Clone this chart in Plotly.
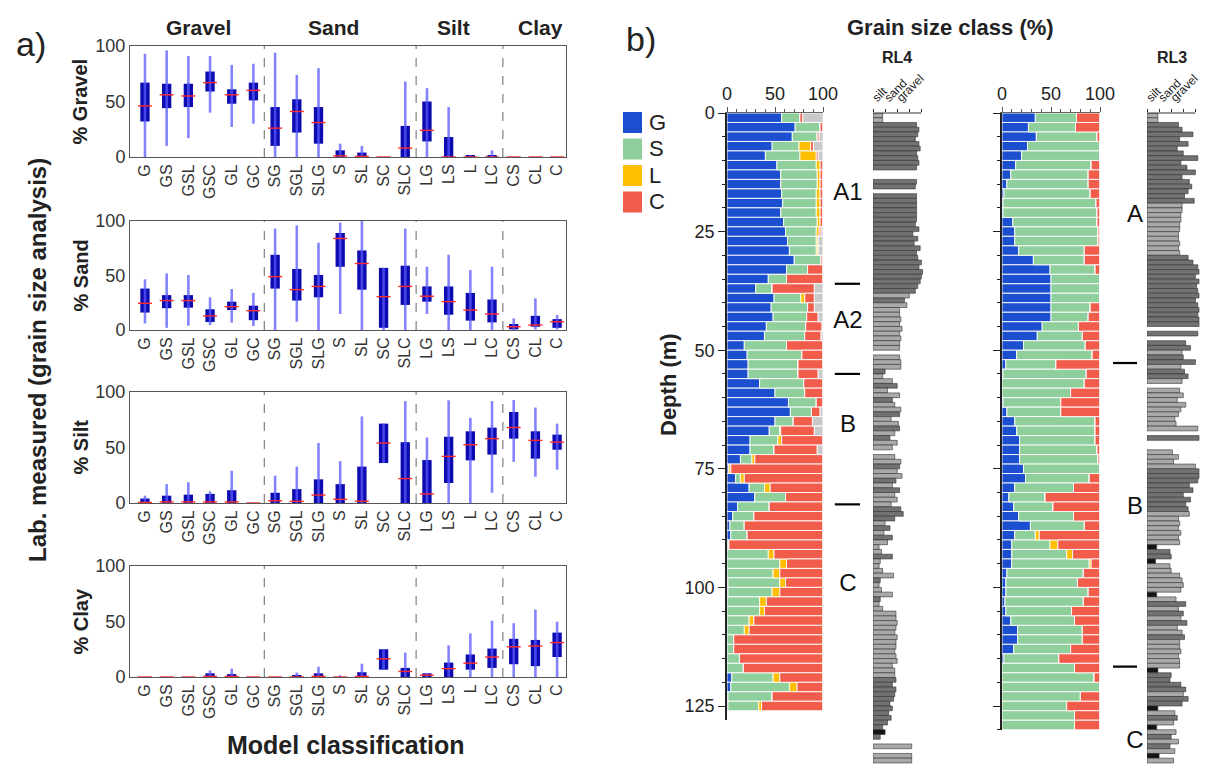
import plotly.graph_objects as go
import numpy as np

# ---------------- DATA: panel a (box statistics) ----------------
categories = ["G", "GS", "GSL", "GSC", "GL", "GC", "SG", "SGL", "SLG", "S", "SL", "SC", "SLC",
              "LG", "LS", "L", "LC", "CS", "CL", "C"]

gravel_lo  = [0, 10, 17, 40, 27, 30, 0, 0, 0, 0, 0, 0, 0, 0, 0, 0, 0, 0, 0, 0]
gravel_q1  = [32, 44, 45, 59, 48, 51, 10, 22, 12, 0, 0, 0, 0, 14, 0, 0, 0, 0, 0, 0]
gravel_med = [46, 56, 55, 67, 56, 60, 26, 41, 31, 1, 0.5, 0, 8, 24, 0, 0, 0, 0, 0, 0]
gravel_q3  = [67, 66, 66, 77, 61, 67, 45, 52, 45, 6, 4, 0, 28, 50, 18, 1.5, 1.5, 0, 0, 0]
gravel_hi  = [93, 96, 91, 91, 83, 84, 94, 74, 80, 12, 10, 0, 68, 62, 45, 1.5, 6, 0, 0, 0]

sand_lo  = [6, 2, 4, 4.6, 6.7, 3.7, 0, 7.6, 0, 14.7, 0, 0, 0, 14.7, 0, 0, 0, 0, 0.6, 0.6]
sand_q1  = [16, 20, 20.5, 7.3, 18.3, 9, 38, 27, 30, 58, 37, 2, 23, 26, 14, 8.6, 7, 0.6, 3, 2]
sand_med = [24.5, 27, 27, 13, 21.4, 17.7, 49, 37, 40, 84, 61, 30.6, 40, 31, 26, 18.3, 14.7, 3, 4.6, 7.6]
sand_q3  = [38, 32, 32, 19, 26, 22.3, 69, 56, 50.5, 89, 73, 57, 59, 40, 40, 34, 28, 5.5, 13, 10]
sand_hi  = [46.5, 52, 50.5, 30, 37.6, 34, 93, 96, 80, 98.5, 100, 57, 93, 58, 69, 55, 58, 10.7, 29, 13.8]

silt_lo  = [0, 0, 0, 0, 0, 0, 0, 0, 0, 0, 0, 36, 0, 0, 0, 0, 9.2, 37, 23.6, 30]
silt_q1  = [0, 0, 0, 0, 0, 0, 0, 0, 0, 0, 0, 36, 0, 0, 18, 38.4, 43.6, 58, 40, 48]
silt_med = [0.5, 1, 1, 1, 1, 0, 2, 1.5, 7.2, 3.3, 1.6, 54, 22, 8.2, 42, 52.5, 58, 68, 56.4, 54.8]
silt_q3  = [4, 6.6, 7.5, 8.2, 11.5, 0, 9.2, 12.5, 21.3, 17, 32.8, 71.5, 54.8, 38.7, 59.7, 64.6, 67.9, 82, 64.6, 61.6]
silt_hi  = [6.6, 17, 18.7, 10.5, 29, 0, 24.6, 32.8, 54, 37.7, 78, 71.5, 91.8, 59, 92.5, 76.7, 91.8, 92.8, 86, 71.5]

clay_lo  = [0, 0, 0, 0, 0, 0, 0, 0, 0, 0, 0, 6.6, 0, 0, 0, 0, 0, 0, 0, 0]
clay_q1  = [0, 0, 0, 0, 0, 0, 0, 0, 0, 0, 0, 6.6, 0, 0, 0, 6.6, 8.2, 11.5, 9.8, 18]
clay_med = [0, 0, 0, 0.5, 0.5, 0, 0, 0, 0.5, 0, 0.5, 16.4, 5, 1.6, 7.5, 12.5, 18, 27.2, 27.9, 31]
clay_q3  = [0, 0, 0, 3.3, 2.6, 0, 0, 1.6, 3.3, 0, 4.3, 25, 8.2, 3.3, 13, 20.3, 25.6, 34.4, 33.4, 40]
clay_hi  = [0, 0, 0, 5.9, 7.5, 0, 0, 4, 9.2, 1.6, 12, 25, 22, 3.3, 28.5, 39.3, 50.8, 48.5, 60.7, 49.8]

group_breaks = [5.5, 12.5, 16.5]
group_names = ["Gravel", "Sand", "Silt", "Clay"]
panel_titles = ["% Gravel", "% Sand", "% Silt", "% Clay"]

# ---------------- DATA: panel b (2 m sample rows, %) ----------------
row_thickness_m = 2
rl4_G = [57, 71, 68, 47, 40, 52, 56, 56, 57, 58, 56, 59, 61, 63, 65, 70, 62, 43, 30, 49, 46, 48, 41, 39,
         18, 21, 22, 22, 34, 50, 64, 66, 50, 44, 24, 24, 14, 2, 9, 23, 29, 11, 6, 3, 4, 1, 0, 0, 0, 1,
         1, 0, 0, 0, 0, 0, 0, 0, 0, 5, 4, 1, 1]
rl4_S = [19, 26, 26, 28, 36, 41, 38, 38, 36, 35, 37, 35, 32, 30, 28, 28, 22, 19, 17, 28, 38, 35, 41, 42,
         44, 57, 52, 52, 46, 31, 29, 22, 19, 11, 29, 25, 12, 0, 5, 16, 32, 33, 22, 15, 17, 1, 43, 55, 48, 54,
         46, 34, 34, 23, 18, 7, 7, 13, 17, 43, 61, 46, 32]
rl4_L = [0, 0, 0, 12, 17, 4, 3, 3, 4, 4, 4, 3, 3, 2, 2, 0, 0, 0, 0, 4, 0, 0, 0, 0,
         0, 0, 0, 0, 0, 0, 0, 0, 0, 1, 4, 0, 3, 2, 4, 6, 0, 0, 0, 0, 0, 0, 6, 7, 7, 6,
         8, 7, 5, 5, 5, 0, 0, 0, 0, 7, 8, 0, 3]
rl4_C = [3, 3, 2, 3, 2, 3, 3, 3, 3, 3, 3, 3, 2, 0, 0, 2, 16, 38, 44, 10, 7, 12, 17, 17,
         38, 22, 26, 21, 20, 19, 7, 9, 20, 35, 43, 45, 71, 96, 82, 55, 39, 56, 72, 82, 79, 98, 51, 38, 45, 39,
         45, 59, 61, 72, 77, 93, 93, 87, 83, 45, 27, 53, 64]

rl3_G = [34, 27, 35, 26, 20, 14, 9, 5, 2, 1, 1, 11, 13, 13, 17, 32, 49, 50, 50, 50, 50, 50, 41, 36,
         22, 15, 4, 1, 0, 0, 1, 5, 13, 15, 18, 18, 18, 22, 24, 13, 7, 12, 17, 29, 13, 10, 10, 10,
         5, 4, 4, 3, 4, 9, 16, 16, 12, 2, 0, 0, 0, 0, 0, 0, 0]
rl3_S = [42, 48, 62, 74, 80, 77, 79, 83, 88, 95, 96, 86, 85, 85, 67, 52, 46, 50, 50, 50, 40, 38, 37, 46,
         63, 77, 51, 85, 84, 70, 59, 55, 82, 80, 77, 79, 80, 78, 65, 60, 37, 40, 56, 55, 21, 39, 56, 79,
         78, 73, 84, 80, 67, 65, 66, 66, 58, 56, 74, 94, 100, 80, 66, 74, 74]
rl3_L = [0, 0, 0, 0, 0, 0, 0, 0, 0, 0, 0, 0, 0, 0, 0, 0, 0, 0, 0, 0, 0, 0, 0, 0,
         0, 0, 0, 0, 0, 0, 0, 0, 0, 0, 0, 0, 0, 0, 0, 0, 0, 0, 0, 0, 4, 8, 6, 2,
         0, 0, 0, 0, 0, 0, 0, 0, 0, 0, 0, 0, 0, 0, 0, 0, 0]
rl3_C = [24, 25, 3, 0, 0, 9, 12, 12, 10, 4, 3, 3, 2, 2, 16, 16, 5, 0, 0, 0, 10, 12, 22, 18,
         15, 8, 45, 14, 16, 30, 40, 40, 5, 5, 5, 3, 2, 0, 11, 27, 56, 48, 27, 16, 62, 43, 28, 9,
         17, 23, 12, 17, 29, 26, 18, 18, 30, 42, 26, 6, 0, 20, 34, 26, 26]

# zone boundaries and labels (depth, m)
rl4_boundaries = [36, 55, 82.5]
rl4_zone_names = ["A1", "A2", "B", "C"]
rl4_zone_depths = [17, 44, 66, 99.4]
rl3_boundaries = [52.7, 116.7]
rl3_zone_names = ["A", "B", "C"]
rl3_zone_depths = [21.7, 83.3, 132.5]

# grain-size logs, 1 m steps: length (0=no data) and shade (d=dark, l=light, k=black)
log_classes = ["silt", "sand", "gravel"]
rl4_log_len = [0.8, 0.8, 3.6, 3.8, 3.7, 3.5, 3.8, 3.9, 3.6, 3.7, 3.8, 3.6, 0, 0, 3.6, 3.5, 0,
               3.6, 3.6, 3.6, 3.6, 3.6, 3.6, 3.5, 3.8, 3.3, 3.7, 3.4, 3.9, 3.6,
               3.7, 4.0, 3.8, 4.1, 4.0, 3.9, 3.7, 3.5, 3.0, 2.6, 2.8, 2.2,
               2.2, 2.3, 2.2, 2.4, 2.2, 2.3, 2.2, 2.2, 0, 2.2, 2.3, 2.3,
               1.0, 0.8, 1.6, 2.0, 1.2, 2.2, 1.6, 1.8, 2.3, 2.2, 1.5, 2.1, 2.2, 1.8, 1.4, 2.0, 1.6, 0,
               1.8, 2.3, 2.2, 2.0, 2.4, 1.9, 1.6, 2.2, 1.8, 2.0, 1.5, 2.3, 2.5, 1.8,
               1.0, 1.4, 0.9, 1.6, 1.2, 0.5, 0.7, 1.6, 0.6, 0.5, 0.8, 1.7, 0.6, 0.5, 0.7, 1.6, 0.6, 0.5, 0.8,
               1.9, 1.9, 2.0, 1.9, 1.8, 2.0, 1.9, 1.9, 1.8, 1.9, 2.0, 1.6, 1.8,
               1.8, 1.9, 1.6, 1.9, 1.8, 1.7, 1.4, 1.6, 1.3, 1.5, 1.2, 0.8, 1.0, 0.6,
               0, 3.2, 0, 3.2, 3.2]
rl4_log_shade = ("ll" + "dddddddddd" + "ll" + "dd" + "l" + "dddddd" + "ddddddd" + "dddddddd" + "ldll"
                 + "llllllll" + "l" + "lll" + "dlldlld" + "lldlldldll" + "l" + "lldlldldlll" + "ddd"
                 + "ldldl" + "lldlllldllldlll" + "lllllllllllll" + "dddddd" + "dddddkdd" + "lllll")
rl3_log_len = [0.9, 0.9, 2.6, 2.9, 3.8, 2.7, 3.4, 2.5, 3.0, 4.2, 2.8, 3.3, 4.0, 2.9, 3.5, 3.7, 3.4, 3.1, 3.9,
               2.9, 2.9, 2.8, 2.8, 2.7, 2.7, 2.6, 2.6, 2.7, 2.6, 2.7, 3.4, 3.8,
               4.2, 4.3, 4.0, 4.3, 4.1, 4.2, 4.3, 4.0, 4.2, 4.3, 4.2, 4.3, 4.3, 0, 4.2, 0,
               3.2, 3.6, 2.9, 3.0, 4.0, 2.8, 3.1, 3.4, 2.9, 0, 2.7, 3.0, 2.5, 3.2, 2.8, 2.6,
               2.3, 2.4, 4.2, 0, 4.3, 0, 0, 2.1, 2.6, 2.2, 4.0, 4.3, 4.3, 4.2,
               3.5, 3.8, 3.0, 3.6, 3.2, 3.4, 3.5, 2.6, 2.7, 2.6, 2.8, 2.6, 2.7,
               0.8, 1.9, 2.0, 0.7, 1.9, 2.0, 2.7, 2.9, 3.0, 2.8, 0.8,
               2.4, 3.2, 2.6, 3.0, 2.8, 3.3, 2.5, 2.9, 3.1, 2.7, 2.7, 2.8, 2.6, 2.7, 2.7, 0.9,
               2.0, 1.9, 2.8, 3.2, 3.0, 3.4, 2.9, 0.9, 2.3, 2.5, 2.2, 0.8,
               2.4, 2.0, 2.6, 1.9, 2.3, 1.0, 2.2]
rl3_log_shade = ("ll" + "ddddddddddddddddd" + "llllllllll" + "ldd" + "ddddddddddddd" + "ldl"
                 + "ddlddlddl" + "l" + "llllll" + "llll" + "d" + "ll" + "llll" + "ddd" + "dddddd" + "lllllll"
                 + "kddkllllllk" + "ldldldlld" + "llllllk" + "dd" + "ddldd" + "k" + "ldl" + "k" + "ldldlkl")

# ---------------- styling ----------------
W, H = 1219, 765
FONT = "Liberation Sans, Arial, sans-serif"
BOX_C = "#0b0bb0"
WHISK_C = "rgba(90,90,255,0.75)"
MED_C = "#ff2a2a"
COL = {"G": "#1b4fcf", "S": "#8ecf9b", "L": "#ffbe00", "C": "#f25c4b", "X": "#c9c9c9"}
SHADE = {"d": "#727272", "l": "#a9a9a9", "k": "#141414"}
PXM = (706 - 113) / 125.0  # pixels per metre
TOP = 113


def xd(a, b):
    return [a / W, b / W]


def yd(top, bottom):
    return [1 - bottom / H, 1 - top / H]


def note(text, px, py, size, angle=0, xanchor="center", bold=False, color="#222"):
    return dict(text=f"<b>{text}</b>" if bold else text, x=px / W, y=1 - py / H, xref="paper",
                yref="paper", xanchor=xanchor, yanchor="middle", textangle=angle, showarrow=False,
                font=dict(size=size, color=color))


fig = go.Figure()
layout = dict(width=W, height=H, margin=dict(l=0, r=0, t=0, b=0, autoexpand=False),
              paper_bgcolor="white", plot_bgcolor="white", showlegend=False, barmode="overlay",
              font=dict(family=FONT, color="#222"))
shapes, annotations = [], []

# ---------------- panel a ----------------
panels = [
    (gravel_lo, gravel_q1, gravel_med, gravel_q3, gravel_hi),
    (sand_lo, sand_q1, sand_med, sand_q3, sand_hi),
    (silt_lo, silt_q1, silt_med, silt_q3, silt_hi),
    (clay_lo, clay_q1, clay_med, clay_q3, clay_hi),
]
pix = [(46, 157), (221, 330), (392, 503), (566, 677)]
idx = list(range(len(categories)))
for k, (lo, q1, med, q3, hi) in enumerate(panels):
    n = k + 1
    xa, ya = ("x" if n == 1 else f"x{n}"), ("y" if n == 1 else f"y{n}")
    wx, wy = [], []
    for i in idx:
        wx += [i, i, None]
        wy += [lo[i], hi[i], None]
    fig.add_trace(go.Scatter(x=wx, y=wy, mode="lines", line=dict(color=WHISK_C, width=2.6),
                             xaxis=xa, yaxis=ya, hoverinfo="skip"))
    fig.add_trace(go.Bar(x=idx, y=[q3[i] - q1[i] for i in idx], base=q1, width=0.43,
                         marker=dict(color=BOX_C, line=dict(width=0)), xaxis=xa, yaxis=ya))
    fig.add_trace(go.Scatter(x=idx, y=med, mode="markers", cliponaxis=False,
                             marker=dict(symbol="line-ew", size=10, line=dict(color=MED_C, width=1.4)),
                             xaxis=xa, yaxis=ya))
    top, bot = pix[k]
    layout["xaxis" if n == 1 else f"xaxis{n}"] = dict(
        domain=xd(130, 566), range=[-0.69, 19.41], tickvals=idx, ticktext=categories, tickangle=-90,
        tickfont=dict(size=16, color="#333"), showline=True, mirror=True, linecolor="#555", linewidth=1,
        ticks="", showgrid=False, zeroline=False, anchor=ya, automargin=False)
    layout["yaxis" if n == 1 else f"yaxis{n}"] = dict(
        domain=yd(top, bot), range=[0, 100], tickvals=[0, 50, 100], tickfont=dict(size=18, color="#333"),
        showline=True, mirror=True, linecolor="#555", linewidth=1, ticks="", showgrid=False,
        zeroline=False, anchor=xa, automargin=False)
    for b in group_breaks:
        shapes.append(dict(type="line", xref=xa, yref=f"{ya} domain", x0=b, x1=b, y0=0, y1=1,
                           line=dict(color="#666", width=1, dash="dash")))
    annotations.append(note(panel_titles[k], 80, (top + bot) / 2, 20, angle=-90, bold=True))

for name, cx in zip(group_names, [198, 333, 453, 540]):
    annotations.append(note(name, cx, 28, 21, bold=True))
annotations += [
    note("a)", 31, 44, 34),
    note("b)", 641, 39, 34),
    note("Lab. measured (grain size analysis)", 37, 360, 24, angle=-90, bold=True),
    note("Model classification", 346, 745, 25, bold=True),
    note("Grain size class (%)", 951, 28, 22, bold=True),
    note("Depth (m)", 668, 385, 22, angle=-90, bold=True),
    note("RL4", 897, 58, 16, bold=True),
    note("RL3", 1172, 58, 16, bold=True),
]

# legend (G/S/L/C)
for j, key in enumerate(["G", "S", "L", "C"]):
    t = 112 + j * 26.5
    shapes.append(dict(type="rect", xref="paper", yref="paper", x0=623 / W, x1=642 / W,
                       y0=1 - (t + 21) / H, y1=1 - t / H, fillcolor=COL[key], line=dict(width=0)))
    annotations.append(note(key, 647, t + 10.5, 22, xanchor="left"))


# ---------------- panel b ----------------
def add_core(G, S, L, C, xa, ya, yaname, xaname, xdom, dmax, labels):
    n = len(G)
    depth = [row_thickness_m * i + row_thickness_m / 2 for i in range(n)]
    arr = np.array([G, S, L, C], dtype=float)
    rest = np.clip(100 - arr.sum(axis=0), 0, None)
    arr = np.vstack([arr, rest])
    base = np.vstack([np.zeros(n), np.cumsum(arr, axis=0)[:-1]])
    for key, vals, b in zip(["G", "S", "L", "C", "X"], arr, base):
        fig.add_trace(go.Bar(y=depth, x=vals, base=b, orientation="h", width=row_thickness_m,
                             marker=dict(color=COL[key], line=dict(color="white", width=0.9)),
                             xaxis=xa, yaxis=ya))
    layout[xaname] = dict(domain=xdom, range=[0, 100], side="top", tickvals=[0, 50, 100],
                          tickfont=dict(size=18, color="#222"), ticks="outside", ticklen=5,
                          tickcolor="#555", minor=dict(dtick=10, ticks="outside", ticklen=3,
                                                       tickcolor="#555"),
                          showline=True, linecolor="#666", linewidth=1, showgrid=False,
                          zeroline=False, anchor=ya, automargin=False)
    layout[yaname] = dict(domain=yd(TOP, TOP + dmax * PXM), range=[dmax, 0],
                          tickvals=[0, 25, 50, 75, 100, 125], showticklabels=labels,
                          tickfont=dict(size=18, color="#222"), ticks="outside", ticklen=7,
                          tickcolor="#222", minor=dict(dtick=5, ticks="outside", ticklen=3,
                                                       tickcolor="#222"),
                          showline=True, linecolor="#222", linewidth=1.5, showgrid=False,
                          zeroline=False, anchor=xa, automargin=False)


def add_zones(bounds, names, depths, xa, ya, xaname, yaname, xdom, lx0, lx1, tx):
    dmax = (H - TOP) / PXM
    bx, by = [], []
    for b in bounds:
        bx += [lx0, lx1, None]
        by += [b, b, None]
    fig.add_trace(go.Scatter(x=bx, y=by, mode="lines", line=dict(color="black", width=2.2),
                             xaxis=xa, yaxis=ya))
    fig.add_trace(go.Scatter(x=[tx] * len(names), y=depths, mode="text", text=names,
                             textfont=dict(size=24, color="#111"), cliponaxis=False,
                             xaxis=xa, yaxis=ya))
    layout[xaname] = dict(domain=xdom, range=[0, 1], visible=False, anchor=ya, automargin=False)
    layout[yaname] = dict(domain=yd(TOP, H), range=[dmax, 0], visible=False, anchor=xa,
                          automargin=False)


def add_log(lens, shade, xa, ya, xaname, yaname, x0px):
    dmax = (H - TOP) / PXM
    n = len(lens)
    depth = [i + 0.5 for i in range(n)]
    vals = [v if v > 0 else None for v in lens]
    cols = [SHADE[s] for s in shade[:n]]
    fig.add_trace(go.Bar(y=depth, x=vals, orientation="h", width=1.0,
                         marker=dict(color=cols, line=dict(color="#333", width=0.6)),
                         xaxis=xa, yaxis=ya))
    unit = 12.1
    layout[xaname] = dict(domain=xd(x0px, x0px + 5 * unit), range=[0, 5], side="top",
                          tickvals=[0, 1, 2, 3, 4], ticktext=log_classes + ["", ""], tickangle=-45,
                          tickfont=dict(size=12, color="#222"), ticks="outside", ticklen=3,
                          tickcolor="#333", showline=False, showgrid=False, zeroline=False,
                          anchor=ya, automargin=False)
    layout[yaname] = dict(domain=yd(TOP, H), range=[dmax, 0], visible=False, anchor=xa,
                          automargin=False)
    shapes.append(dict(type="line", xref=xa, yref="paper", x0=0, x1=4, y0=1 - TOP / H, y1=1 - TOP / H,
                       line=dict(color="#333", width=1)))


add_core(rl4_G, rl4_S, rl4_L, rl4_C, "x5", "y5", "yaxis5", "xaxis5", xd(727, 823), 128, True)
add_zones(rl4_boundaries, rl4_zone_names, rl4_zone_depths, "x6", "y6", "xaxis6", "yaxis6",
          xd(830, 870), 0.12, 0.75, 0.45)
add_log(rl4_log_len, rl4_log_shade, "x7", "y7", "xaxis7", "yaxis7", 873)
add_core(rl3_G, rl3_S, rl3_L, rl3_C, "x8", "y8", "yaxis8", "xaxis8", xd(1002, 1100), 130, False)
add_zones(rl3_boundaries, rl3_zone_names, rl3_zone_depths, "x9", "y9", "xaxis9", "yaxis9",
          xd(1107, 1147), 0.15, 0.75, 0.7)
add_log(rl3_log_len, rl3_log_shade, "x10", "y10", "xaxis10", "yaxis10", 1147)

layout["shapes"] = shapes
layout["annotations"] = annotations
fig.update_layout(**layout)
fig.write_html("out.html")
